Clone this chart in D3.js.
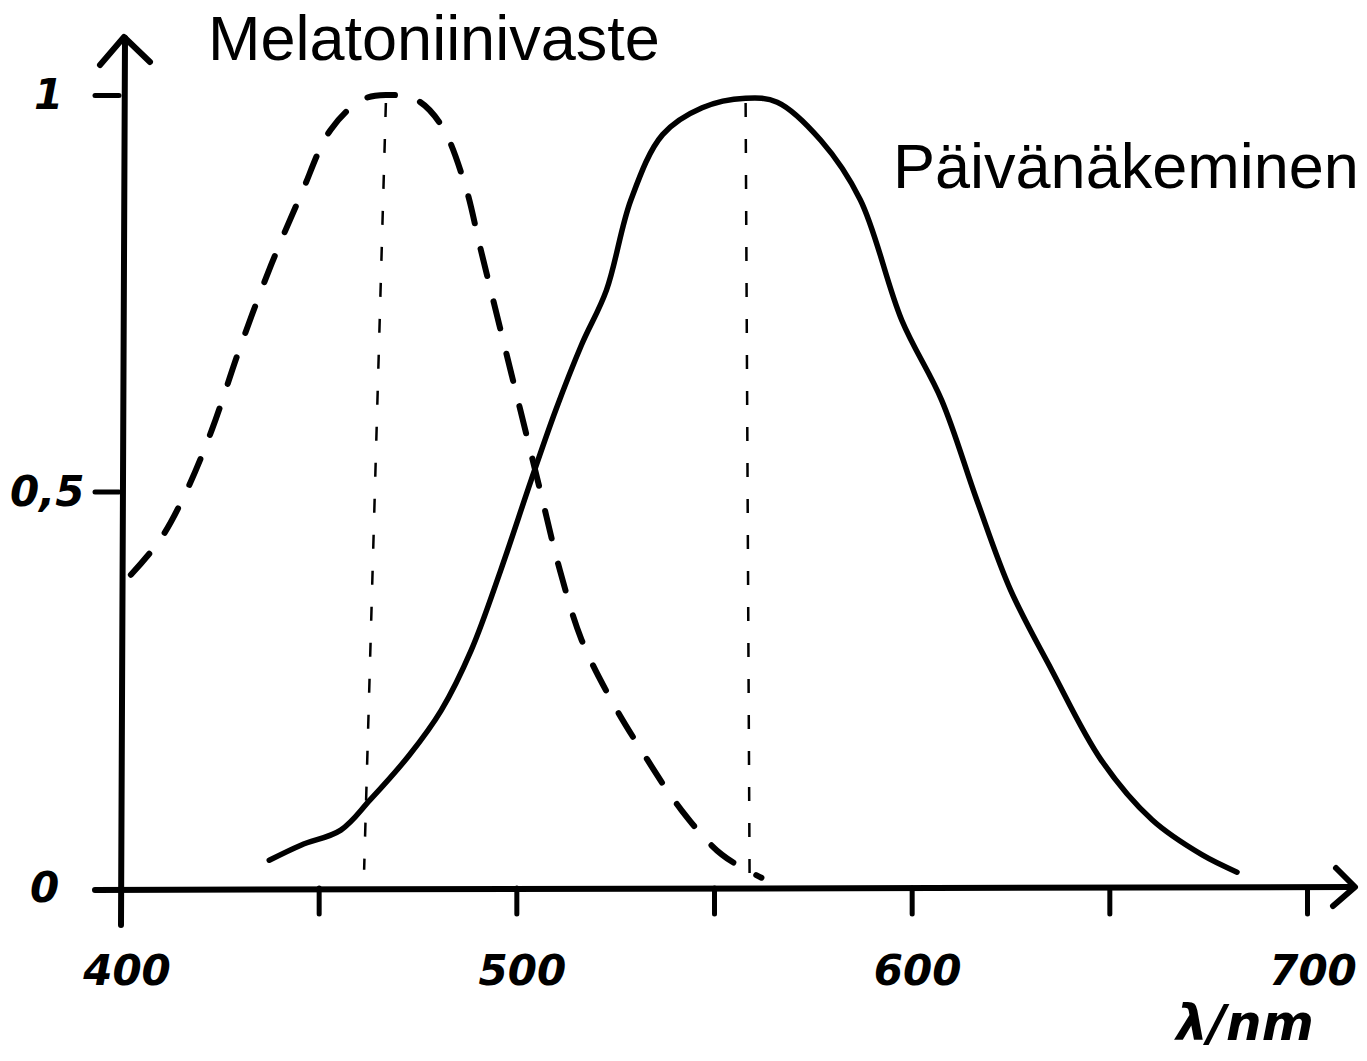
<!DOCTYPE html>
<html>
<head>
<meta charset="utf-8">
<script src="https://cdn.jsdelivr.net/npm/d3@7"></script>
<style>
  html, body { margin: 0; padding: 0; background: #fff; }
  svg { display: block; }
</style>
</head>
<body>
<div id="chart"></div>
<script>
// melatonin response (dashed), wavelength nm / relative value
const melatoninNm  = [402.5, 410, 416.5, 423, 430, 438, 445.5, 453, 461, 467, 474.7, 481, 487, 491, 496, 501, 506, 511, 516.5, 524, 531.6, 541.8, 552, 562];
const melatoninVal = [0.395, 0.44, 0.50, 0.578, 0.68, 0.786, 0.874, 0.956, 0.994, 1.0, 0.994, 0.962, 0.887, 0.805, 0.704, 0.603, 0.502, 0.401, 0.313, 0.237, 0.174, 0.098, 0.042, 0.013];

// photopic vision (solid)
const photopicNm  = [437.5, 445.5, 455.6, 463, 473, 481, 488.6, 496, 503.8, 510, 516.5, 522.8, 529, 537, 547, 558, 566, 577, 587, 597.5, 607.6, 616.5, 625, 635.4, 648, 660.8, 673.4, 682.3];
const photopicVal = [0.035, 0.054, 0.073, 0.111, 0.168, 0.224, 0.30, 0.40, 0.515, 0.603, 0.685, 0.754, 0.868, 0.95, 0.984, 0.996, 0.991, 0.943, 0.868, 0.716, 0.615, 0.489, 0.376, 0.275, 0.161, 0.086, 0.042, 0.020];

// peak guide lines (top / bottom)
const peakTopNm    = [467, 558];
const peakTopVal   = [0.99, 0.99];
const peakBottomNm = [461.5, 559];
const peakBottomVal = [0.023, 0.017];

const xTicks = [450, 500, 550, 600, 650, 700];
const xLabels = {400: "400", 500: "500", 600: "600", 700: "700"};
const yLabelVals = [0, 0.5, 1];
const yLabels = ["0", "0,5", "1"];
const yTicks = [0.5, 1];
const seriesNames = ["Melatoniinivaste", "Päivänäkeminen"];
const xTitle = "λ/nm";

const W = 1367, H = 1061;
const svg = d3.select("#chart").append("svg").attr("width", W).attr("height", H);

const x = d3.scaleLinear().domain([400, 700]).range([121, 1307]);
const y = d3.scaleLinear().domain([0, 1]).range([888, 95]);

const hand = "'DejaVu Sans', sans-serif";

// x axis ticks
const xAxis = d3.axisBottom(x).tickValues(xTicks).tickSize(26).tickFormat("");
const xg = svg.append("g").attr("transform", "translate(0," + y(0) + ")").call(xAxis);
xg.select(".domain").remove();
xg.selectAll(".tick line").attr("stroke", "#000").attr("stroke-width", 5).attr("stroke-linecap", "round");

// y axis ticks (drawn to the left)
const yAxis = d3.axisLeft(y).tickValues(yTicks).tickSize(24).tickFormat("");
const yg = svg.append("g").attr("transform", "translate(" + (x(400) - 2) + ",0)").call(yAxis);
yg.select(".domain").remove();
yg.selectAll(".tick line").attr("stroke", "#000").attr("stroke-width", 5).attr("stroke-linecap", "round");

// axis lines with arrows
const axes = svg.append("g").attr("stroke", "#000").attr("stroke-width", 6)
    .attr("fill", "none").attr("stroke-linecap", "round").attr("stroke-linejoin", "round");
axes.append("line").attr("x1", x(400)).attr("y1", 925).attr("x2", x(400) + 4).attr("y2", 38);
axes.append("polyline").attr("points", "100,65 124,37 150,62");
axes.append("line").attr("x1", 95).attr("y1", y(0) + 2).attr("x2", 1352).attr("y2", y(0) - 1);
axes.append("polyline").attr("points", "1336,868 1355,887 1333,906");

// tick labels
const lab = svg.append("g").attr("font-family", hand).attr("font-weight", "bold")
    .attr("font-style", "italic").attr("font-size", 42).attr("fill", "#000");
Object.keys(xLabels).forEach(k => {
    lab.append("text").attr("x", x(+k) + 6).attr("y", 985)
        .attr("text-anchor", "middle").text(xLabels[k]);
});
const yLabelX = [30, 10, 34];
yLabelVals.forEach((v, i) => {
    lab.append("text").attr("x", yLabelX[i]).attr("y", y(v) + 14)
        .attr("text-anchor", "start").text(yLabels[i]);
});
lab.append("text").attr("x", 1245).attr("y", 1040).attr("text-anchor", "middle")
    .attr("font-size", 50).text(xTitle);

// peak guides
const guides = svg.append("g").attr("stroke", "#000").attr("stroke-width", 2.5)
    .attr("stroke-dasharray", "14 22").attr("fill", "none");
peakTopNm.forEach((d, i) => {
    guides.append("line")
        .attr("x1", x(d)).attr("y1", y(peakTopVal[i]))
        .attr("x2", x(peakBottomNm[i])).attr("y2", y(peakBottomVal[i]));
});

const line = d3.line().x(d => x(d[0])).y(d => y(d[1])).curve(d3.curveCatmullRom);

svg.append("path")
    .datum(melatoninNm.map((d, i) => [d, melatoninVal[i]]))
    .attr("d", line)
    .attr("fill", "none").attr("stroke", "#000").attr("stroke-width", 6)
    .attr("stroke-linecap", "round").attr("stroke-dasharray", "28 26");

svg.append("path")
    .datum(photopicNm.map((d, i) => [d, photopicVal[i]]))
    .attr("d", line)
    .attr("fill", "none").attr("stroke", "#000").attr("stroke-width", 5.5)
    .attr("stroke-linecap", "round").attr("stroke-linejoin", "round");

// series names
const names = svg.append("g").attr("font-family", "'Liberation Sans', Arial, sans-serif")
    .attr("font-size", 63).attr("fill", "#000");
names.append("text").attr("x", 208).attr("y", 60).text(seriesNames[0]);
names.append("text").attr("x", 893).attr("y", 188).text(seriesNames[1]);
</script>
</body>
</html>
